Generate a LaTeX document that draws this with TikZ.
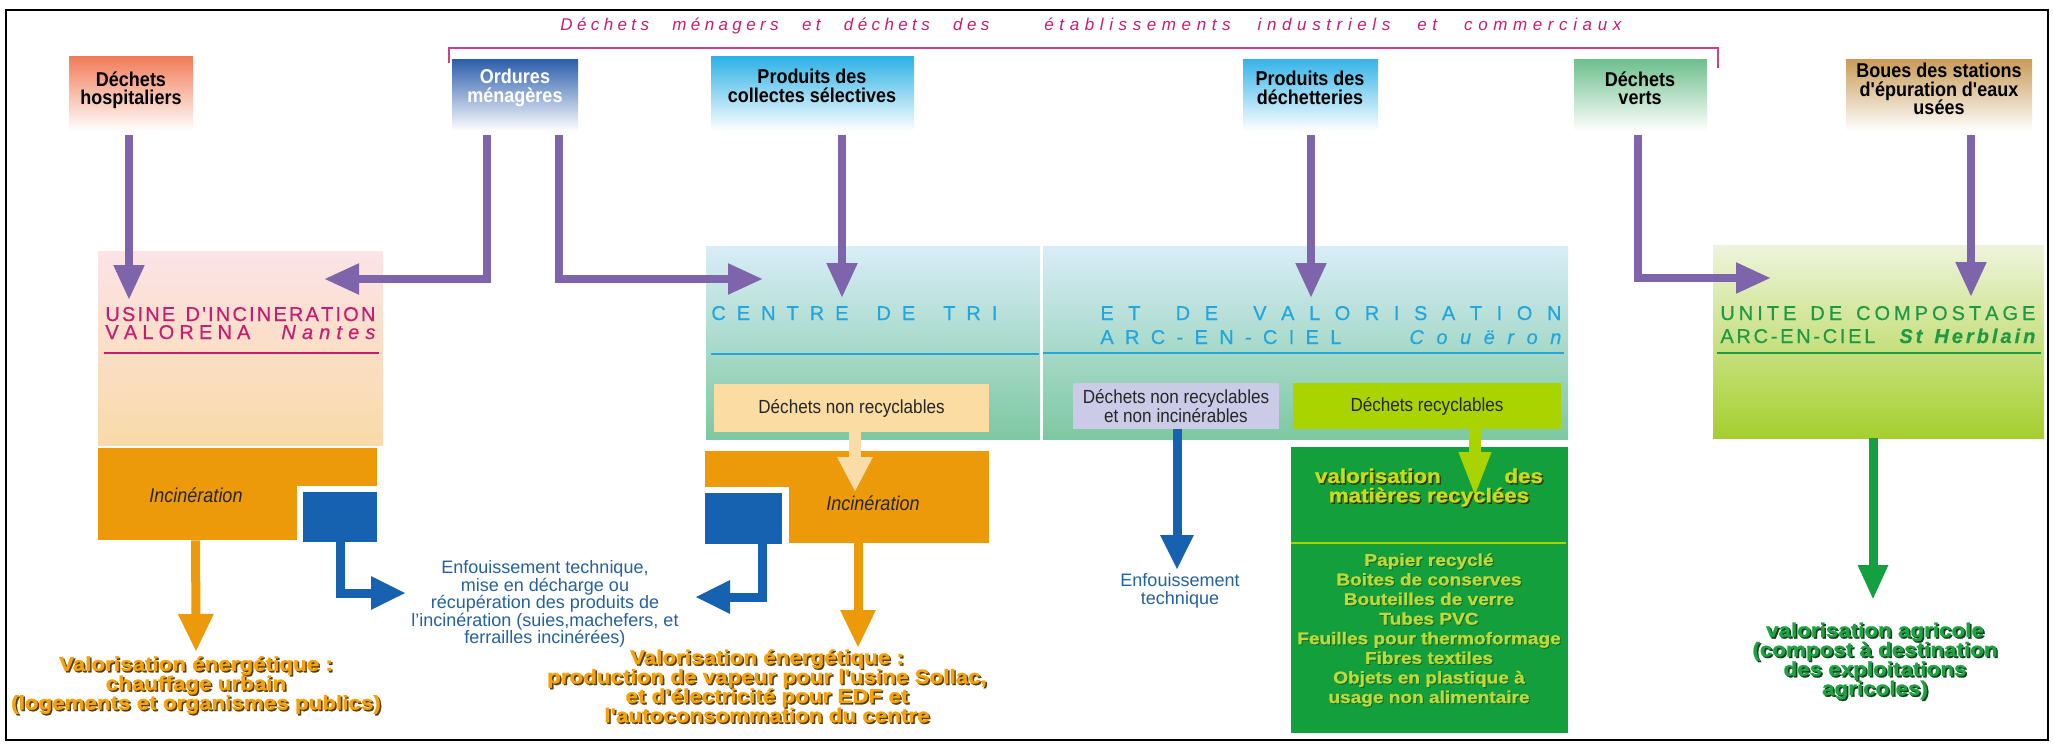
\documentclass[tikz,border=0pt]{standalone}
\usepackage{fontspec}
\setmainfont{Liberation Sans}
\newfontfamily\widefont[FakeStretch=1.12,FakeBold=1.2]{Liberation Sans}
\newfontfamily\narrowfont[FakeStretch=0.9]{Liberation Sans}
\newfontfamily\titlefont[FakeBold=0.5]{Liberation Sans}
\usetikzlibrary{arrows.meta,fit,calc}
\AtBeginDocument{\lineskiplimit=-20pt}

\definecolor{purp}{HTML}{7E64AA}
\definecolor{mag}{HTML}{C81C72}
\definecolor{orng}{HTML}{EC9A0A}
\definecolor{blu}{HTML}{1662B0}
\definecolor{cyn}{HTML}{22A6DD}
\definecolor{grn}{HTML}{1E9A45}
\definecolor{dgrn}{HTML}{13A03C}
\definecolor{limec}{HTML}{AAD400}
\definecolor{peach}{HTML}{FBDCA2}
\definecolor{peachA}{HTML}{F9DCA8}
\definecolor{lav}{HTML}{CBCBE8}
\definecolor{txtblue}{HTML}{23619F}
\definecolor{etxt}{HTML}{F4A20A}
\definecolor{eshad}{HTML}{5C3A06}
\definecolor{ytxt}{HTML}{C9DC1A}
\definecolor{yshad}{HTML}{2E3A05}
\definecolor{itemc}{HTML}{BFD83A}
\definecolor{ishad}{HTML}{0E6A28}
\definecolor{gtxt}{HTML}{1FA243}
\definecolor{gshad}{HTML}{0B3F17}
\definecolor{garrc}{HTML}{14A040}
\definecolor{hospT}{HTML}{F27B57}
\definecolor{ordT}{HTML}{2B5DAC}
\definecolor{colT}{HTML}{2CB1E6}
\definecolor{decT}{HTML}{34B4E8}
\definecolor{verT}{HTML}{6DBF8D}
\definecolor{bouT}{HTML}{C99B57}
\definecolor{usineT}{HTML}{FCE3E6}
\definecolor{usineB}{HTML}{F9DAA8}
\definecolor{triT}{HTML}{D8EDF7}
\definecolor{triB}{HTML}{7DC8A1}
\definecolor{compT}{HTML}{EEF4DC}
\definecolor{compB}{HTML}{A5CF2E}

\makeatletter
\newdimen\pxu \pxu=0.5pt
\def\sp@end{\sp@end}
\def\sp@loop#1{%
  \ifx#1\sp@end
  \else
    \ifx#1|\hskip .3em plus 1fil\relax\else#1\hskip 0pt plus 1fil\relax\fi
    \expandafter\sp@loop
  \fi}
\newcommand\spreadbox[2]{\hbox to #1\pxu{\sp@loop#2\sp@end\unskip}}
\makeatother

\tikzset{
  boxfit/.style={inner sep=0pt, draw=none},
  toptxt/.style={font=\fontsize{10}{9.2}\selectfont\narrowfont\bfseries, align=center, inner sep=0pt},
  ttl/.style={font=\fontsize{8.5}{9}\selectfont\itshape, text=mag, inner sep=0pt, anchor=base west},
  ptitle/.style={font=\fontsize{10}{10}\selectfont\titlefont, inner sep=0pt, anchor=base west},
  ptitlei/.style={font=\fontsize{10}{10}\selectfont\titlefont\itshape, inner sep=0pt, anchor=base west},
  smtxt/.style={font=\fontsize{9.5}{9.4}\selectfont\narrowfont, text=black!85, align=center, inner sep=0pt},
  inctxt/.style={font=\fontsize{10}{10}\selectfont\narrowfont\itshape, text=black!85, inner sep=0pt},
  enftxt/.style={font=\fontsize{9}{8.8}\selectfont, text=txtblue, align=center, inner sep=0pt},
  emb/.style={font=\fontsize{10}{9.7}\selectfont\widefont\bfseries, align=center, inner sep=0pt},
  itm/.style={font=\fontsize{8.5}{9.8}\selectfont\widefont\bfseries, align=center, inner sep=0pt},
  parr/.style={draw=purp, line width=4pt, -{Triangle[width=14.5pt,length=17.5pt]}},
  oarr/.style={draw=orng, line width=4.5pt, -{Triangle[width=16.5pt,length=19pt]}},
  barr/.style={draw=blu, line width=4.5pt, -{Triangle[width=15.5pt,length=17.5pt]}},
  pkarr/.style={draw=peachA, line width=6pt, -{Triangle[width=16.5pt,length=17.5pt]}},
  larr/.style={draw=limec, line width=6pt, -{Triangle[width=14.5pt,length=23pt]}},
  garr/.style={draw=garrc, line width=4.5pt, -{Triangle[width=14pt,length=17.5pt]}},
}

\begin{document}
\begin{tikzpicture}[x=0.5pt,y=-0.5pt]
\useasboundingbox (0,0) rectangle (2053,745);
\fill[white] (0,0) rectangle (2053,745);
\draw[line width=1pt] (6,10) rectangle (2048,740);

% title and bracket
\node[ttl] (ttl1) at (560,30) {\spreadbox{429}{Déchets||ménagers||et||déchets||des}};
\node[ttl] (ttl2) at (1044,30) {\spreadbox{577}{établissements||industriels||et||commerciaux}};
\draw[mag!85, line width=1pt] (449,63) -- (449,48) -- (1718,48) -- (1718,68);

% top boxes
\node[boxfit, fit={(69,56)(193,131)}, top color=hospT, bottom color=white] (hosp) {};
\node[boxfit, fit={(452,59)(578,131)}, top color=ordT, bottom color=white] (ord) {};
\node[boxfit, fit={(711,56)(914,131)}, top color=colT, bottom color=white] (col) {};
\node[boxfit, fit={(1243,59)(1378,131)}, top color=decT, bottom color=white] (dec) {};
\node[boxfit, fit={(1574,59)(1707,131)}, top color=verT, bottom color=white] (ver) {};
\node[boxfit, fit={(1846,59)(2032,131)}, top color=bouT, bottom color=white] (bou) {};

\node[toptxt] (hosp-t) at (131,90) {Déchets\\hospitaliers};
\node[toptxt, text=white] (ord-t) at (515,88) {Ordures\\ménagères};
\node[toptxt] (col-t) at (812,86) {Produits des\\collectes sélectives};
\node[toptxt] (dec-t) at (1310,88) {Produits des\\déchetteries};
\node[toptxt] (ver-t) at (1640,88) {Déchets\\verts};
\node[toptxt] (bou-t) at (1939,89) {Boues des stations\\d'épuration d'eaux\\usées};

% USINE
\node[boxfit, fit={(98,251)(383,445)}, top color=usineT, bottom color=usineB] (usine) {};
\node[ptitle, text=mag] (usine-t1) at (105,321) {\spreadbox{270}{USINE|D'INCINERATION}};
\node[ptitle, text=mag] (usine-t2) at (105,339) {\spreadbox{145}{VALORENA}};
\node[ptitlei, text=mag] (usine-t3) at (281,339) {\spreadbox{94}{Nantes}};
\draw[mag, line width=1pt] (104,353) -- (379,353);

\node[boxfit, fit={(98,448)(377,540)}, fill=orng] (uinc) {};
\fill[white] (297,486) rectangle (383,547);
\node[boxfit, fit={(303,492)(377,542)}, fill=blu] (ublue) {};
\node[inctxt] (uinc-t) at (196,495) {Incinération};

% CENTRE DE TRI
\node[boxfit, fit={(706,246)(1040,439)}, top color=triT, bottom color=triB] (tri) {};
\node[ptitle, text=cyn] (tri-t) at (711,320) {\spreadbox{286}{CENTRE|DE|TRI}};
\draw[cyn, line width=1pt] (711,354) -- (1039,354);
\node[boxfit, fit={(714,384)(989,432)}, fill=peach] (nrec) {};
\node[smtxt] (nrec-t) at (nrec) {Déchets non recyclables};

\node[boxfit, fit={(705,451)(989,543)}, fill=orng] (tinc) {};
\fill[white] (699,487) rectangle (789,550);
\node[boxfit, fit={(705,493)(782,544)}, fill=blu] (tblue) {};
\node[inctxt] (tinc-t) at (873,503) {Incinération};

% VALORISATION Coueron
\node[boxfit, fit={(1043,246)(1568,439)}, top color=triT, bottom color=triB] (valo) {};
\node[ptitle, text=cyn] (valo-t1) at (1100,320) {\spreadbox{461}{ET|DE|VALORISATION}};
\node[ptitle, text=cyn] (valo-t2) at (1100,344) {\spreadbox{241}{ARC-EN-CIEL}};
\node[ptitlei, text=cyn] (valo-t3) at (1409,344) {\spreadbox{152}{Couëron}};
\draw[cyn, line width=1pt] (1043,353) -- (1564,353);
\node[boxfit, fit={(1073,383)(1279,429)}, fill=lav] (nrni) {};
\node[smtxt] (nrni-t) at (nrni) {Déchets non recyclables\\et non incinérables};
\node[boxfit, fit={(1293,383)(1561,429)}, fill=limec] (rec) {};
\node[smtxt] (rec-t) at (rec) {Déchets recyclables};

\node[boxfit, fit={(1291,447)(1568,733)}, fill=dgrn] (vmat) {};
\draw[limec, line width=1pt] (1291,543) -- (1566,543);

% COMPOSTAGE
\node[boxfit, fit={(1713,245)(2044,438)}, top color=compT, bottom color=compB] (comp) {};
\node[ptitle, text=grn] (comp-t1) at (1720,320) {\spreadbox{315}{UNITE|DE|COMPOSTAGE}};
\node[ptitle, text=grn] (comp-t2) at (1720,343) {\spreadbox{155}{ARC-EN-CIEL}};
\node[ptitlei, text=grn, font=\fontsize{10}{10}\selectfont\titlefont\bfseries\itshape] (comp-t3) at (1899,343) {\spreadbox{136}{St|Herblain}};
\draw[grn, line width=1pt] (1717,353) -- (2041,353);

% arrow end points
\coordinate (tipH) at (129,300);
\coordinate (tipOL) at (324,279);
\coordinate (tipOR) at (763,279);
\coordinate (tipC) at (842,298);
\coordinate (tipD) at (1311,298);
\coordinate (tipV) at (1771,278);
\coordinate (tipB) at (1971,297);
\coordinate (tipUO) at (196,652);
\coordinate (tipUB) at (406,593);
\coordinate (tipPK) at (855,492);
\coordinate (tipTO) at (858,648);
\coordinate (tipTB) at (695,597);
\coordinate (tipVB) at (1177,570);
\coordinate (tipL) at (1475,498);
\coordinate (tipG) at (1873,600);

% purple arrows
\draw[parr] ($(hosp.south)+(-2,4)$) -- (tipH);
\draw[parr] ($(ord.south)+(-28,4)$) |- (tipOL);
\draw[parr] ($(ord.south)+(44,4)$) |- (tipOR);
\draw[parr] ($(col.south)+(29.5,4)$) -- (tipC);
\draw[parr] ($(dec.south)+(0.5,4)$) -- (tipD);
\draw[parr] ($(ver.south)+(-2.5,4)$) |- (tipV);
\draw[parr] ($(bou.south)+(32,4)$) -- (tipB);

% lower arrows
\draw[oarr] ($(uinc.south west)+(98,0)$) -- (tipUO);
\draw[barr] (ublue.south) |- (tipUB);
\draw[pkarr] ($(nrec.south)+(3.5,0)$) -- (tipPK);
\draw[oarr] ($(tinc.south)+(11,0)$) -- (tipTO);
\draw[barr] ($(tblue.south)+(18.5,0)$) |- (tipTB);
\draw[barr] ($(nrni.south)+(1,0)$) -- (tipVB);
\draw[larr] ($(rec.south)+(48,0)$) -- (tipL);
\draw[garr] ($(comp.south)+(-5.5,0)$) -- (tipG);

% texts lower
\node[enftxt] (enf1) at (545,604) {Enfouissement technique,\\mise en décharge ou\\récupération des produits de\\l'incinération (suies,machefers, et\\ferrailles incinérées)};
\node[enftxt] (enf2) at (1180,591) {Enfouissement\\technique};

\node[emb, text=eshad] (vl-s) at (197.5,686.5) {Valorisation énergétique :\\chauffage urbain\\(logements et organismes publics)};
\node[emb, text=etxt] (vl) at (196,685) {Valorisation énergétique :\\chauffage urbain\\(logements et organismes publics)};

\node[emb, text=eshad] (vc-s) at (768.5,687.5) {Valorisation énergétique :\\production de vapeur pour l'usine Sollac,\\et d'électricité pour EDF et\\l'autoconsommation du centre};
\node[emb, text=etxt] (vc) at (767,686) {Valorisation énergétique :\\production de vapeur pour l'usine Sollac,\\et d'électricité pour EDF et\\l'autoconsommation du centre};

\node[emb, text=yshad] (vm-s) at (1430.5,489) {\makebox[114pt][s]{valorisation des}\\matières recyclées};
\node[emb, text=ytxt] (vm) at (1429,487.5) {\makebox[114pt][s]{valorisation des}\\matières recyclées};

\node[itm, text=ishad] (items-s) at (1430,631) {Papier recyclé\\Boites de conserves\\Bouteilles de verre\\Tubes PVC\\Feuilles pour thermoformage\\Fibres textiles\\Objets en plastique à\\usage non alimentaire};
\node[itm, text=itemc] (items) at (1429,630) {Papier recyclé\\Boites de conserves\\Bouteilles de verre\\Tubes PVC\\Feuilles pour thermoformage\\Fibres textiles\\Objets en plastique à\\usage non alimentaire};

\node[emb, text=gshad] (va-s) at (1876.5,662.5) {valorisation agricole\\(compost à destination\\des exploitations\\agricoles)};
\node[emb, text=gtxt] (va) at (1875,661) {valorisation agricole\\(compost à destination\\des exploitations\\agricoles)};
\end{tikzpicture}
\end{document}
